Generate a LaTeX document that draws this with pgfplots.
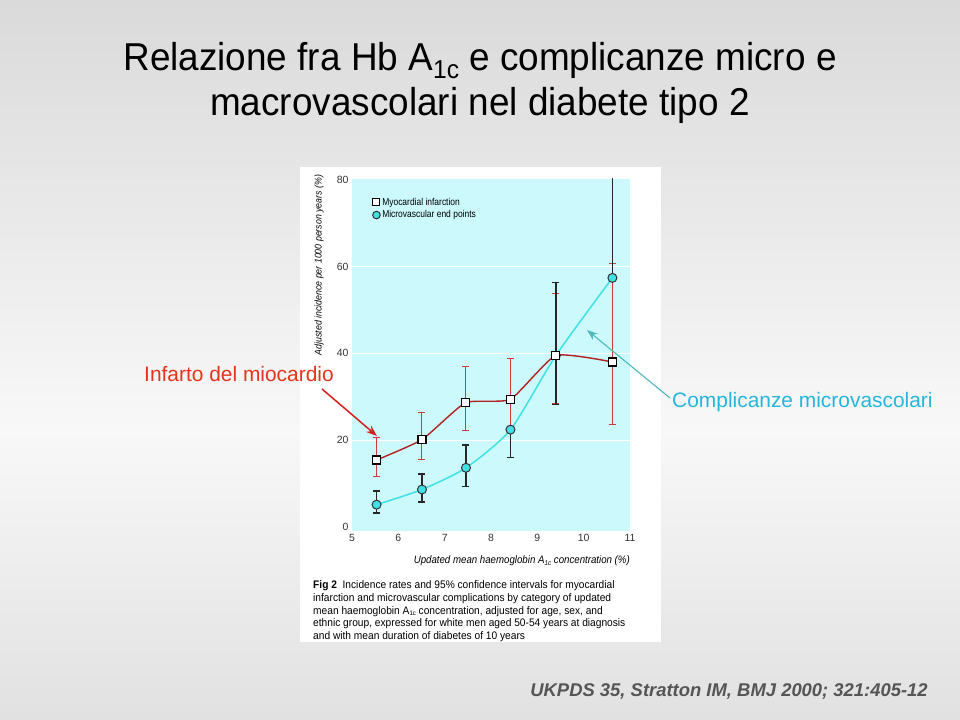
\documentclass[border=0pt]{standalone}
\usepackage{fontspec}
\setmainfont{Liberation Sans}
\usepackage{graphicx}
\usepackage{pgfplots}
\pgfplotsset{compat=1.18}
\usetikzlibrary{arrows.meta}

\definecolor{bgtop}{RGB}{218,218,218}
\definecolor{bgmid}{RGB}{248,248,248}
\definecolor{bgbot}{RGB}{225,225,225}
\definecolor{plotbg}{RGB}{204,250,252}
\definecolor{mired}{RGB}{178,34,34}
\definecolor{mibar}{RGB}{205,60,60}
\definecolor{microcyan}{RGB}{64,224,228}
\definecolor{annred}{RGB}{228,52,28}
\definecolor{arrred}{RGB}{215,30,30}
\definecolor{anncyan}{RGB}{38,182,220}
\definecolor{arrowteal}{RGB}{80,184,186}
\definecolor{citegray}{RGB}{85,85,85}

\begin{document}
\begin{tikzpicture}[x=1bp,y=1bp]
% slide background
\path[use as bounding box] (0,0) rectangle (960,720);
\shade[top color=bgtop, bottom color=bgmid] (0,290) rectangle (960,720);
\shade[top color=bgmid, bottom color=bgbot] (0,0) rectangle (960,290);

% title
\node[anchor=base, inner sep=0] at (480,649) {\fontsize{39}{45}\selectfont
  \scalebox{0.95}[1]{Relazione fra Hb A\raisebox{-8bp}{\fontsize{26}{26}\selectfont 1c} e complicanze micro e}};
\node[anchor=base, inner sep=0] at (480,604) {\fontsize{39}{45}\selectfont
  \scalebox{0.95}[1]{macrovascolari nel diabete tipo 2}};

% white box of the scanned figure
\fill[white] (300,78) rectangle (661,553);

\begin{axis}[
    at={(352bp,189.3bp)}, anchor=south west,
    scale only axis, width=278bp, height=351.7bp,
    xmin=5, xmax=11, ymin=-0.9, ymax=80.2,
    axis background/.style={fill=plotbg},
    axis line style={draw=none},
    major tick length=0pt,
    xtick={5,6,7,8,9,10,11},
    ytick={20,40,60},
    extra y ticks={0,80},
    extra y tick style={grid=none},
    ymajorgrids,
    grid style={white, line width=1bp},
    tick label style={font=\fontsize{10.5}{12}\selectfont, text=black!80},
    /pgf/number format/assume math mode=true,
    legend style={
        at={(0.07,0.955)}, anchor=north west,
        draw=none, fill=none,
        font=\fontsize{10}{12}\selectfont,
        row sep=0bp,
        inner sep=1bp
    },
    legend cell align=left,
]
% MI confidence intervals
\addplot[mibar, only marks, mark=*, mark size=0pt, mark options={draw=none, fill=none}, forget plot,
    error bars/.cd, y dir=both, y explicit, error mark=-,
    error bar style={draw=mibar, line width=1bp},
    error mark options={rotate=90, draw=mibar, line width=1bp, mark size=3.5bp}]
coordinates {
    (5.53,15.4)  += (0,5.1)  -= (0,3.9)
    (6.51,20.1)  += (0,6.2)  -= (0,4.5)
    (7.45,28.6)  += (0,8.3)  -= (0,6.4)
    (8.42,29.4)  += (0,9.4)  -= (0,7.4)
    (9.40,39.5)  += (0,14.4) -= (0,11.1)
    (10.62,38.0) += (0,22.7) -= (0,14.5)
};
% microvascular confidence intervals
\addplot[black!85, only marks, mark=*, mark size=0pt, mark options={draw=none, fill=none}, forget plot,
    error bars/.cd, y dir=both, y explicit, error mark=-,
    error bar style={draw=black!85, line width=1.4bp},
    error mark options={rotate=90, draw=black!85, line width=1.6bp, mark size=3.5bp}]
coordinates {
    (5.53,5.1)   += (0,3.1)  -= (0,1.9)
    (6.51,8.6)   += (0,3.6)  -= (0,2.9)
    (7.46,13.6)  += (0,5.3)  -= (0,4.3)
    (8.42,22.4)  += (0,0)    -= (0,6.4)
    (9.40,39.5)  += (0,16.8) -= (0,11.3)
    (10.62,57.4) += (0,30)   -= (0,0)
};
% lines
\addplot[mired, line width=1.4bp, smooth, tension=0.3, forget plot]
coordinates {(5.53,15.4) (6.51,20.1) (7.45,28.6) (8.42,29.4) (9.40,39.5) (10.62,38.0)};
\addplot[microcyan, line width=1.5bp, smooth, tension=0.4, forget plot]
coordinates {(5.53,5.1) (6.51,8.6) (7.46,13.6) (8.42,22.4) (9.40,39.5) (10.62,57.4)};
% markers
\addplot[only marks, mark=*, mark size=4.5bp, forget plot,
    mark options={fill=microcyan, draw=black!80, line width=1bp}]
coordinates {(5.53,5.1) (6.51,8.6) (7.46,13.6) (8.42,22.4) (9.40,39.5) (10.62,57.4)};
\addplot[only marks, mark=square*, mark size=4bp, forget plot,
    mark options={fill=white, draw=black, line width=1.1bp}]
coordinates {(5.53,15.4) (6.51,20.1) (7.45,28.6) (8.42,29.4) (9.40,39.5) (10.62,38.0)};

\addlegendimage{only marks, mark=square*, mark size=3.5bp, mark options={fill=white, draw=black, line width=1bp}}
\addlegendentry{\scalebox{0.85}[1]{Myocardial infarction}}
\addlegendimage{only marks, mark=*, mark size=3.8bp, mark options={fill=microcyan, draw=black!80, line width=1bp}}
\addlegendentry{\scalebox{0.85}[1]{Microvascular end points}}
\end{axis}

% axis titles of the figure
\node[rotate=90, inner sep=0] at (319,455) {\fontsize{9.8}{11}\selectfont\itshape
  \scalebox{0.9}[1]{Adjusted incidence per 1000 person years (\%)}};
\node[anchor=base east, inner sep=0] at (630,156) {\fontsize{10.8}{12}\selectfont\itshape
  \scalebox{0.9}[1]{Updated mean haemoglobin A\raisebox{-2bp}{\fontsize{7}{8}\selectfont 1c} concentration (\%)}};

% caption of the figure
\node[anchor=north west, inner sep=0] at (313,140) {\fontsize{11}{12.6}\selectfont
  \scalebox{0.93}[1]{\begin{tabular}{@{}l@{}}
  \textbf{Fig 2}\ \ Incidence rates and 95\% confidence intervals for myocardial\\
  infarction and microvascular complications by category of updated\\
  mean haemoglobin A\raisebox{-1.5bp}{\fontsize{6.5}{7}\selectfont 1c} concentration, adjusted for age, sex, and\\
  ethnic group, expressed for white men aged 50-54 years at diagnosis\\
  and with mean duration of diabetes of 10 years
  \end{tabular}}};

% annotations
\node[anchor=base west, inner sep=0, text=annred] at (144,338) {\fontsize{21}{25}\selectfont Infarto del miocardio};
\draw[arrred, line width=1.5bp, -{Stealth[length=11bp, width=8bp]}] (322,331) -- (377,284);
\node[anchor=base west, inner sep=0, text=anncyan] at (672,312) {\fontsize{21}{25}\selectfont Complicanze microvascolari};
\draw[arrowteal, line width=1.1bp, -{Stealth[length=11bp, width=8bp]}] (670,322) -- (587,390);

% reference
\node[anchor=base east, inner sep=0, text=citegray] at (928,23) {\fontsize{18.5}{22}\selectfont\bfseries\itshape
  UKPDS 35, Stratton IM, BMJ 2000; 321:405-12};
\end{tikzpicture}
\end{document}
